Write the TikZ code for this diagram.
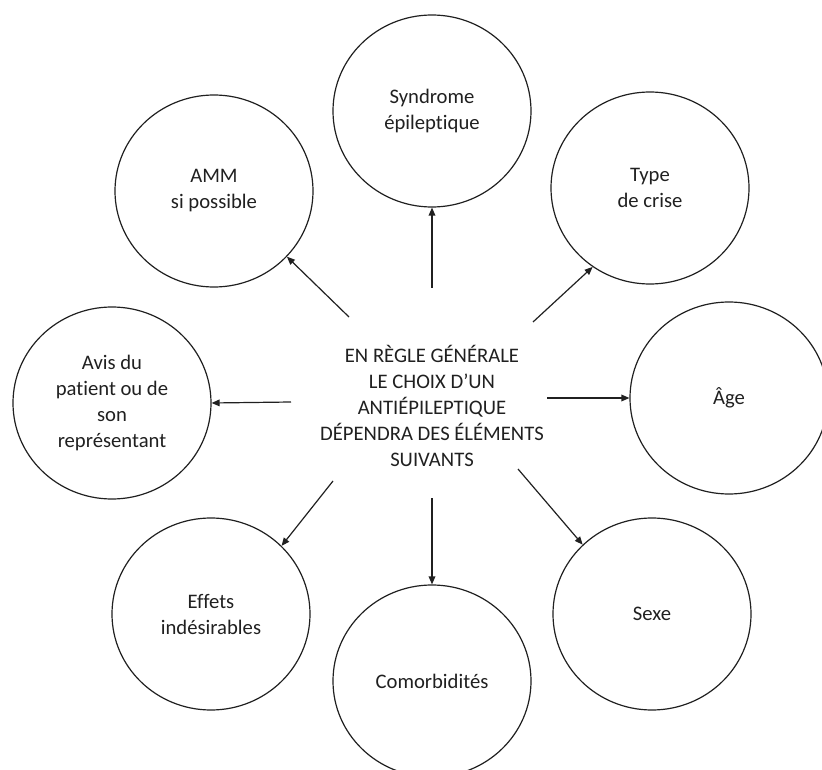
\documentclass[tikz,border=0pt]{standalone}
\usepackage{fontspec}
\setmainfont{Carlito}[Ligatures=NoCommon]
\usetikzlibrary{shapes.geometric,arrows.meta}
\definecolor{ink}{HTML}{202020}
\begin{document}
\begin{tikzpicture}[x=0.75pt,y=-0.75pt,
  txt/.style={text=ink, align=center, font=\fontsize{15.5}{19.5}\selectfont},
  bubble/.style={txt, draw=ink, line width=0.9pt, ellipse, minimum width=148.5pt, minimum height=144pt, inner sep=0pt},
  arr/.style={draw=ink, -{Triangle[length=6pt,width=5pt]}, line width=0.9pt}]
\useasboundingbox (0,0) rectangle (822,770);
\node[txt] (ctr) at (432,406) {EN RÈGLE GÉNÉRALE\\LE CHOIX D’UN\\ANTIÉPILEPTIQUE\\DÉPENDRA DES ÉLÉMENTS\\SUIVANTS};
\node[bubble] (syn) at (432,111) {Syndrome\\épileptique};
\node[bubble] (amm) at (214,191) {AMM\\si possible};
\node[bubble] (typ) at (650,188) {Type\\de crise};
\node[bubble] (avi) at (112,403) {Avis du\\patient ou de\\son\\représentant};
\node[bubble] (age) at (729,398) {Âge};
\node[bubble] (eff) at (211,614) {Effets\\indésirables};
\node[bubble] (sex) at (652,614) {Sexe};
\node[bubble] (com) at (432,681) {Comorbidités};
\coordinate (s1) at (432,288);
\coordinate (s2) at (349,317);
\coordinate (s3) at (533,322);
\coordinate (s4) at (291,402);
\coordinate (s5) at (547,398);
\coordinate (s6) at (333,481);
\coordinate (s7) at (432,498);
\coordinate (s8) at (518,469);
\draw[arr] (s1) -- (syn.270);
\draw[arr] (s2) -- (amm.318);
\draw[arr] (s3) -- (typ.234);
\draw[arr] (s4) -- (avi.0);
\draw[arr] (s5) -- (age.180);
\draw[arr] (s6) -- (eff.44);
\draw[arr] (s7) -- (com.90);
\draw[arr] (s8) -- (sex.135);
\end{tikzpicture}
\end{document}
